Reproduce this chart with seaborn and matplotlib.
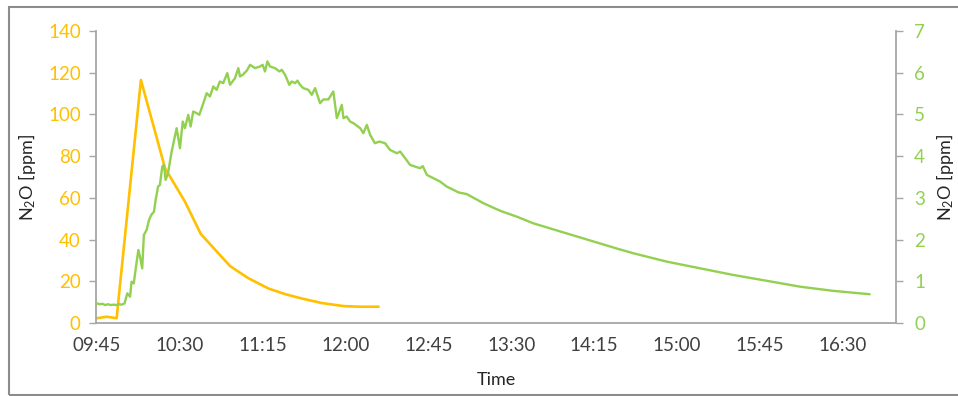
import numpy as np
import pandas as pd
import matplotlib
matplotlib.use("Agg")
import matplotlib.pyplot as plt
import matplotlib.dates as mdates
from matplotlib.patches import Rectangle
import seaborn as sns

# ---------------------------------------------------------------------------
# Data (minutes after 09:45)
# ---------------------------------------------------------------------------
START = "2020-01-01 09:45"

yellow_min = [0, 5.3, 10.7, 23.9, 37, 47.8, 56.4, 72.3, 82, 93, 102, 111, 122, 134, 143, 153]
yellow_ppm = [2.3, 3.0, 2.3, 116.5, 74.2, 58.2, 42.7, 27.3, 21.6, 16.6, 13.9, 11.8, 9.6, 8.1, 7.8, 7.8]

green_min = [
    0, 1.5, 3, 4.5, 6, 7.5, 9, 10.5, 12, 13.5, 15, 16.5, 18, 18.8, 20, 21.6,
    22.5, 23.4, 24.6, 25.5, 27, 28.3, 29.5, 31, 31.9, 33.2, 34.2, 35.5, 36.4,
    37.3, 38.6, 40.6, 43.3, 45.1, 46.6, 47.8, 49.6, 50.9, 52.3, 54.2, 55.6,
    57.8, 59.6, 61.4, 63.2, 65, 66.8, 68.6, 70.8, 72.3, 75, 76.8, 77.7, 79.2,
    81.4, 83.2, 85.9, 88.6, 90, 91.3, 92.6, 94, 96.7, 99.1, 100.4, 102.2,
    104.5, 105.8, 107.6, 108.9, 110.3, 112.1, 114.8, 116.7, 118.5, 121.2, 123,
    125.7, 128.4, 130.3, 131.7, 133, 133.9, 135.7, 137.5, 139.3, 143, 144.7,
    146.6, 148.4, 151, 153.4, 156.5, 159.2, 161, 162.9, 164.7, 167.4, 170.1,
    172.8, 175.5, 177, 179.2, 182.8, 186.4, 190, 193.7, 196.4, 200.9, 210, 219,
    228, 237, 246, 255, 264, 273, 282, 291.5, 309.6, 327.7, 345.8, 364, 382,
    400, 419.7,
]
green_ppm = [
    0.47, 0.45, 0.46, 0.43, 0.45, 0.43, 0.44, 0.43, 0.45, 0.44, 0.47, 0.71, 0.63,
    0.99, 0.95, 1.47, 1.75, 1.59, 1.31, 2.11, 2.23, 2.47, 2.59, 2.67, 2.95, 3.27,
    3.31, 3.75, 3.79, 3.43, 3.59, 4.11, 4.67, 4.19, 4.83, 4.67, 4.99, 4.71, 5.07,
    5.03, 4.99, 5.27, 5.51, 5.43, 5.67, 5.59, 5.79, 5.75, 5.99, 5.71, 5.87, 6.11,
    5.91, 5.95, 6.05, 6.19, 6.11, 6.15, 6.19, 6.03, 6.27, 6.15, 6.11, 6.03, 6.07,
    5.95, 5.71, 5.79, 5.75, 5.81, 5.71, 5.63, 5.59, 5.47, 5.63, 5.27, 5.36, 5.36,
    5.55, 4.91, 5.07, 5.23, 4.91, 4.95, 4.83, 4.79, 4.67, 4.55, 4.75, 4.51, 4.31,
    4.35, 4.31, 4.15, 4.11, 4.07, 4.11, 3.95, 3.79, 3.75, 3.71, 3.76, 3.55, 3.47,
    3.39, 3.27, 3.19, 3.13, 3.09, 2.87, 2.69, 2.55, 2.39, 2.27, 2.15, 2.03, 1.91,
    1.79, 1.67, 1.47, 1.31, 1.15, 1.01, 0.87, 0.77, 0.69,
]

tick_times = ["09:45", "10:30", "11:15", "12:00", "12:45", "13:30",
              "14:15", "15:00", "15:45", "16:30"]

YELLOW = "#FFC000"
GREEN = "#92D050"
GREY = "#A6A6A6"

base = pd.Timestamp(START)
yellow_t = base + pd.to_timedelta(yellow_min, unit="min")
green_t = base + pd.to_timedelta(green_min, unit="min")

# ---------------------------------------------------------------------------
# Plot
# ---------------------------------------------------------------------------
sns.set_style("white")
plt.rcParams["font.family"] = ["Lato", "DejaVu Sans"]
plt.rcParams["mathtext.default"] = "regular"

fig = plt.figure(figsize=(9.58, 3.96), dpi=100)
ax = fig.add_axes([96 / 958, 1 - 323 / 396, 800 / 958, 292 / 396])
ax2 = ax.twinx()

sns.lineplot(x=yellow_t, y=yellow_ppm, ax=ax, color=YELLOW, linewidth=1.9)
sns.lineplot(x=green_t, y=green_ppm, ax=ax2, color=GREEN, linewidth=1.7)

ax.set_ylim(0, 140)
ax.set_yticks(range(0, 141, 20))
ax2.set_ylim(0, 7)
ax2.set_yticks(range(0, 8))

ax.set_xlim(base - pd.Timedelta(minutes=0.5), base + pd.Timedelta(minutes=434))
ax.set_xticks([pd.Timestamp("2020-01-01 " + t) for t in tick_times])
ax.xaxis.set_major_formatter(mdates.DateFormatter("%H:%M"))

for a in (ax, ax2):
    for side in ("top", "left", "right", "bottom"):
        a.spines[side].set_visible(False)
ax.spines["left"].set_visible(True)
ax.spines["bottom"].set_visible(True)
ax2.spines["right"].set_visible(True)
for s in (ax.spines["left"], ax.spines["bottom"], ax2.spines["right"]):
    s.set_color(GREY)
    s.set_linewidth(1.3)

ax.tick_params(axis="y", left=True, length=5, width=1, color=GREY,
               labelcolor=YELLOW, labelsize=13.5, pad=6)
ax.tick_params(axis="x", bottom=True, length=0, labelcolor="#404040",
               labelsize=13.5, pad=10)
ax2.tick_params(axis="y", right=True, length=5, width=1, color=GREY,
                labelcolor=GREEN, labelsize=13.5, pad=8)

ax.set_xlabel("Time", fontsize=13, color="#262626")
ax.set_ylabel("N$_2$O [ppm]", fontsize=13, color="#262626")
ax2.set_ylabel("N$_2$O [ppm]", fontsize=13, color="#262626", rotation=90)
ax.xaxis.set_label_coords(0.5, -0.168)
ax.yaxis.set_label_coords(-0.072, 0.5)
ax2.yaxis.set_label_coords(1.047, 0.5)

# chart frame
fig.patches.append(Rectangle((9 / 958, 1.5 / 396), 0.999, 1 - 8.5 / 396,
                             transform=fig.transFigure, fill=False,
                             edgecolor="#8C8C8C", linewidth=1.5))

fig.savefig("out.png", dpi=100)
